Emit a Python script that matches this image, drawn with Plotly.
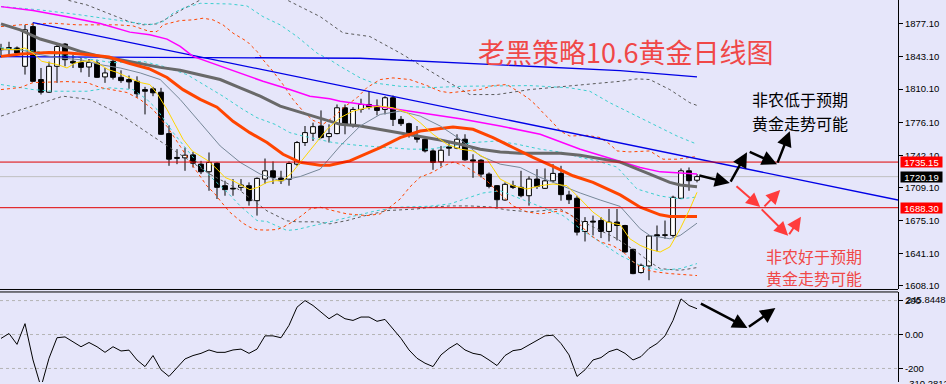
import plotly.graph_objects as go

BG = "#e6e6fa"

# ---------------- candles (daily gold) ----------------
opens = [1851.5,1852.0,1852.3,1833.5,1874.3,1819.9,1806.9,1833.5,1856.3,1838.6,
         1837.5,1832.8,1836.9,1822.6,1838.6,1822.2,1819.9,1818.1,1809.6,1810.4,
         1806.9,1764.4,1739.9,1739.5,1742.5,1733.0,1725.2,1734.0,1710.9,1708.2,
         1709.2,1710.9,1695.5,1717.7,1726.2,1718.7,1717.4,1733.0,1755.2,1764.7,
         1772.2,1761.3,1764.4,1790.9,1773.9,1789.2,1794.3,1792.6,1789.2,1801.2,
         1779.0,1774.6,1760.9,1758.6,1746.6,1735.4,1750.7,1749.4,1758.6,1737.4,
         1737.1,1722.8,1710.9,1696.2,1710.9,1709.2,1700.6,1717.7,1708.2,1715.9,
         1723.5,1701.4,1698.0,1663.9,1674.5,1675.1,1663.9,1673.5,1670.0,1645.5,
         1621.7,1628.5,1660.5,1659.8,1659.8,1698.0,1726.2,1716.5]
highs = [1856.6,1858.7,1853.9,1876.1,1878.4,1831.8,1838.3,1857.4,1857.4,1845.4,
         1842.0,1841.0,1840.3,1831.8,1842.0,1829.4,1824.0,1823.2,1812.4,1812.4,
         1811.4,1772.9,1748.4,1750.1,1745.6,1736.4,1745.0,1734.8,1716.0,1717.7,
         1717.7,1714.3,1719.4,1738.8,1735.8,1726.2,1735.8,1756.8,1772.2,1775.6,
         1788.2,1773.9,1794.3,1794.3,1791.6,1800.2,1807.9,1799.5,1802.8,1803.5,
         1782.4,1775.6,1772.2,1759.3,1748.4,1751.7,1755.2,1763.7,1763.7,1743.2,
         1738.1,1724.5,1711.6,1714.3,1716.0,1726.2,1720.5,1727.9,1728.6,1733.0,
         1731.3,1705.7,1700.6,1678.6,1680.2,1678.6,1687.0,1687.0,1670.7,1646.2,
         1630.9,1659.8,1670.0,1675.1,1700.6,1728.6,1729.6,1722.8]
lows = [1842.3,1845.4,1845.4,1825.0,1817.8,1804.5,1806.1,1816.5,1833.5,1831.8,
        1827.3,1822.6,1821.6,1816.5,1819.9,1816.5,1810.4,1801.2,1784.1,1802.8,
        1763.0,1731.3,1733.0,1726.2,1729.6,1722.8,1705.7,1697.2,1700.6,1700.6,
        1705.7,1690.4,1680.2,1712.6,1712.6,1712.6,1710.9,1731.3,1751.7,1756.8,
        1759.3,1755.2,1763.7,1763.7,1770.5,1785.9,1789.2,1783.1,1784.1,1772.2,
        1772.2,1760.3,1755.2,1745.0,1727.2,1730.7,1741.5,1748.4,1736.5,1719.0,
        1719.4,1708.2,1688.8,1695.5,1707.5,1699.0,1690.4,1707.5,1707.5,1714.3,
        1695.5,1692.1,1659.8,1653.6,1659.8,1657.1,1653.6,1654.7,1642.1,1620.0,
        1620.6,1613.8,1643.4,1656.4,1658.1,1697.2,1705.7,1714.3]
closes = [1850.5,1852.6,1847.1,1871.0,1818.1,1806.9,1833.5,1853.9,1840.3,1836.9,
          1832.4,1837.5,1822.2,1826.7,1822.2,1818.8,1817.5,1805.3,1807.9,1806.3,
          1763.7,1738.1,1738.9,1742.2,1734.0,1725.2,1734.8,1709.2,1706.8,1707.5,
          1711.6,1695.5,1718.4,1726.2,1719.4,1716.0,1733.7,1755.2,1765.4,1771.5,
          1760.3,1764.4,1790.9,1773.9,1789.2,1794.3,1791.6,1788.2,1801.2,1779.0,
          1774.6,1763.7,1758.6,1746.6,1734.8,1747.3,1749.4,1758.6,1737.4,1736.1,
          1722.8,1710.2,1696.5,1712.3,1709.2,1700.6,1717.7,1710.2,1715.9,1723.5,
          1701.7,1696.5,1663.2,1674.1,1673.5,1663.9,1673.5,1670.0,1642.8,1620.6,
          1629.1,1659.2,1659.2,1660.5,1699.0,1726.2,1716.0,1720.19]

# ---------------- moving averages ----------------
ma_yellow_x = [0,2,3,4,5.1,6.1,7.1,8.25,9.25,10.25,11.4,12.4,13.4,14.5,15.5,16.5,17.6,18.6,19.6,20.75,
               21.75,22.75,23.9,24.9,25.9,27,28,29,30.1,31.1,32.1,33.25,34.25,35.25,36.4,37.4,39,40.75,42.4,44,
               45.75,47.4,49,50.75,52.4,54,55.75,57.4,59,60.75,62.4,64,65.75,67.4,69,70.75,72.4,74,75.75,77.4,
               78.6,79.9,81.1,82.4,83.6,84.9,86.1,87]
ma_yellow_y = [1851.2,1850.5,1852.3,1847.1,1838.6,1836.9,1835.2,1831.8,1836.9,1838.6,1839.3,1835.2,1830.1,1827.3,1823.2,1819.9,1816.5,1814.8,1804.5,1789.2,
               1773.9,1758.6,1746.6,1741.5,1736.4,1727.9,1719.4,1716.0,1710.9,1706.8,1709.2,1714.3,1716.0,1716.0,1724.5,1734.8,1751.7,1768.8,1780.7,1787.5,
               1790.9,1792.6,1790.9,1785.9,1775.6,1763.7,1753.5,1748.4,1746.6,1738.1,1717.7,1710.9,1707.5,1710.9,1712.6,1710.9,1697.3,1683.7,1673.5,1670.7,
               1656.4,1649.6,1645.5,1642.8,1647.9,1666.6,1687.0,1704.1]

ma_thin_x = [0,2.4,4.9,7.4,9.9,12.4,14.9,17.4,19.9,22.4,24.9,27.4,29.9,32.4,34.9,37.4,39.9,42.4,44.9,47.4,
             49.9,52.4,54.9,57.4,59.9,62.4,64.9,67.4,69.9,72.4,74.9,77.4,79.9,81.1,83.6,84.9,87]
ma_thin_y = [1850.5,1850.5,1845.4,1842.0,1840.3,1835.2,1831.8,1826.7,1819.9,1799.4,1775.6,1751.7,1734.8,1722.8,1716.0,1720.3,1727.9,1751.7,1772.2,1784.1,
             1787.5,1782.4,1772.2,1758.6,1741.5,1733.0,1729.6,1719.4,1711.6,1703.4,1696.2,1689.6,1666.6,1659.8,1656.4,1659.8,1672.4]

ma_orange_x = [0,2.5,6,8.5,11,13.5,16,18.5,20.75,22.75,24.9,27,29,31.1,33.25,35.25,37.4,39.9,41.1,43.6,
               47.4,49.9,52.4,54.9,56.5,59,61.5,64,66.5,69,71.5,74,77.4,79.9,82.4,83.6,87]
ma_orange_y = [1843.7,1846.1,1847.8,1847.1,1845.4,1843.1,1836.5,1831.0,1822.0,1809.5,1799.5,1791.5,1777.0,1765.4,1755.2,1743.2,1734.8,1732.0,1732.0,1736.4,
               1750.1,1760.3,1767.0,1769.5,1771.1,1768.8,1760.3,1750.1,1739.9,1730.7,1721.1,1714.4,1701.4,1688.8,1681.0,1679.2,1679.2]

ma_grey_x = [0,2.4,4.9,7.4,9.9,12.4,14.9,17.4,19.9,22.4,24.9,27.4,29.9,32.4,34.9,37.4,39.9,42.4,44.9,47.4,
             49.9,52.4,54.9,57.4,59.9,62.4,64.9,67.4,69.9,72.4,74.9,77.4,81.1,83.6,84.9,87]
ma_grey_y = [1877.1,1871.0,1861.5,1855.6,1848.8,1843.7,1840.3,1836.2,1832.4,1829.4,1825.0,1819.9,1811.4,1802.8,1792.6,1786.1,1780.0,1773.9,1772.2,1768.8,
             1765.4,1761.3,1757.9,1753.5,1748.4,1745.6,1744.3,1744.3,1744.3,1742.2,1738.9,1735.1,1722.8,1714.3,1711.6,1709.8]

ma_magenta_x = [0,4,8.25,12.4,16.1,18.6,20.75,22.4,24,25.75,28.6,32.75,36.1,38.6,41.1,42.4,47.4,52.4,57.4,62.4,
                67.4,72.4,77.4,79.9,82.4,87]
ma_magenta_y = [1894.8,1890.7,1884.5,1877.5,1868.6,1865.8,1861.4,1853.9,1843.7,1838.6,1830.1,1818.1,1809.6,1802.8,1800.1,1797.7,1792.0,1785.9,1779.7,1772.2,
                1763.7,1748.4,1735.6,1729.6,1725.1,1722.8]

# ---------------- bands (dotted) ----------------
band_orange_up_x = [0,2.4,6.5,9.5,12,14.5,16.5,18.6,19.5,20.25,22.4,24,25.25,26.5,27.75,29,30.75,32,32.75,34,
                    35.25,36.5,37.75,39,40.25,41.5,43,44.5,45.75,47.4,49,51.1,53.25,54.9,56.1,57.75,59.9,61.5,63.25,64.9,
                    66.1,67,67.75,69,69.9,71.1,73.25,74.9,76.1,77,78.6,81.1,82.75,84.5,87]
band_orange_up_y = [1874.3,1876.1,1877.8,1876.1,1876.1,1876.1,1875.0,1869.2,1869.2,1876.1,1880.5,1881.2,1882.9,1881.2,1876.1,1867.6,1859.0,1848.8,1840.3,1828.3,
                    1814.8,1799.4,1787.5,1778.0,1773.9,1781.0,1792.3,1801.2,1811.7,1819.9,1821.6,1819.9,1813.7,1807.9,1806.3,1807.9,1809.6,1813.7,1814.8,1806.3,
                    1799.4,1792.6,1785.8,1775.6,1767.0,1761.9,1762.6,1760.3,1753.5,1746.6,1745.6,1746.6,1738.1,1738.1,1740.9]
band_orange_dn_x = [0,2.4,4,8.25,10.75,12.4,15.75,17.4,19,20.75,22.4,24,25.75,26.75,27.4,28.6,30.25,31.1,32,33.25,
                    34.5,35.25,36.4,37.6,38.6,39.9,41.5,43.25,45.75,47.4,48.6,49.9,51.1,52.4,54,55.25,56.5,57.75,59,60.75,
                    62.4,64,65.75,67.4,69.9,71.1,72.4,73.6,74.9,76.5,77.75,79,80.25,81.5,83.6,87]
band_orange_dn_y = [1809.6,1811.7,1816.8,1817.8,1816.8,1811.7,1806.6,1799.4,1789.2,1771.8,1751.4,1731.0,1710.5,1702.4,1695.5,1683.7,1672.4,1668.3,1665.6,1665.3,
                    1665.9,1668.3,1673.5,1680.2,1687.0,1688.8,1685.3,1681.9,1680.2,1681.9,1688.8,1697.3,1709.5,1719.7,1724.8,1731.0,1735.1,1732.0,1725.9,1715.7,
                    1702.4,1690.1,1684.0,1681.9,1685.0,1681.9,1670.7,1660.5,1653.3,1649.2,1643.1,1632.9,1625.7,1622.7,1620.6,1618.6]

band_cyan_up_x = [0,4.9,9.9,14.9,18.6,20.25,21.5,22.75,24.9,28.6,30.75,32.75,34.9,37,39.5,41.1,42.4,44.9,46.5,49.9,
                  54,57.75,62,66.1,71.1,73.6,76.1,78.6,82,84.5,87]
band_cyan_up_y = [1894.8,1891.4,1886.3,1880.1,1876.1,1879.4,1888.0,1893.1,1898.2,1897.5,1895.5,1884.5,1876.1,1864.1,1847.1,1840.3,1833.5,1821.6,1816.5,1813.0,
                  1811.7,1813.0,1813.0,1813.7,1811.4,1807.9,1796.1,1785.8,1772.2,1761.9,1753.5]
band_cyan_mid_x = [0,4.9,9.9,14,17.75,20.25,23.25,25.75,27.75,30.25,32,34.25,36.1,37.75,41.5,44.5,47.75,51.1,53.6,56.1,
                   59,62,64.5,67.4,70.25,72.4,74.5,77,79.5,82.4,84.9,87]
band_cyan_mid_y = [1852.6,1848.5,1842.3,1837.2,1838.6,1833.5,1825.0,1813.0,1802.8,1789.2,1780.7,1773.9,1765.4,1761.9,1755.2,1752.4,1750.1,1748.4,1748.4,1751.7,
                   1755.2,1756.8,1753.5,1748.4,1745.0,1739.9,1736.4,1730.0,1707.5,1700.3,1697.3,1699.3]
band_cyan_dn_x = [0,4,6.5,10.75,13.6,16.5,18.25,19.5,21.5,23.25,24.9,26.5,28.25,29.9,30.75,32,33.25,34.5,35.75,37,
                  38.25,40.25,43.6,47,49.9,53.6,56.1,58.6,60.25,62.4,64.5,66.5,68.6,70.25,72.4,74.9,77.4,79.9,82.4,84.9,87]
band_cyan_dn_y = [1814.8,1809.6,1807.9,1807.9,1811.4,1809.6,1799.4,1789.2,1765.7,1748.4,1731.0,1717.7,1704.4,1690.1,1683.7,1675.1,1674.1,1669.4,1664.9,1665.9,
                  1668.3,1671.7,1678.6,1685.3,1688.8,1689.8,1692.2,1699.0,1703.4,1705.7,1699.0,1692.2,1685.3,1680.2,1666.6,1653.0,1639.3,1629.1,1624.0,1625.7,1630.9]

band_grey_up_x = [0,4.9,8.25,10.75,13.25,16.1,17.75,19.5,21.1,23,24.9,28.6,32.4,35.75,37.4,39.9,42.75,46.1,49.9,53.6,
                  56.1,58.6,62,66.1,70.25,74.5,77.4,79.5,81.1,83.6,86.1,87]
band_grey_up_y = [1927.1,1911.8,1901.6,1896.5,1888.3,1879.1,1876.1,1877.1,1884.2,1893.4,1901.6,1913.9,1909.8,1901.6,1894.8,1884.5,1867.9,1864.1,1847.1,1828.3,
                  1816.5,1804.5,1804.5,1809.6,1813.0,1816.5,1818.1,1820.6,1819.9,1809.6,1796.1,1793.3]
band_grey_dn_x = [0,4,7.75,11.1,14.9,18.6,22.4,26.1,29.6,30.75,32,33.25,34.5,35.75,37,39.5,41.1,43.25,45.25,48.25,
                  52,53.6,56.1,58.6,61.1,63.25,66.1,69.9,72.4,74.9,77,79.5,81.1,82.4,84.9,87]
band_grey_dn_y = [1782.4,1792.6,1802.8,1799.4,1784.1,1763.7,1743.2,1722.8,1707.5,1700.3,1692.1,1685.0,1679.9,1674.8,1673.8,1673.8,1671.7,1675.1,1679.6,1685.3,
                  1687.0,1688.8,1690.1,1690.1,1689.1,1686.0,1684.0,1687.0,1675.1,1664.9,1656.4,1642.8,1632.6,1625.7,1624.0,1626.8]

# ---------------- trend lines & levels ----------------
trend_down_x = [4, 112.125]
trend_down_y = [1878.4, 1696.2]
trend_flat_x = [-0.2, 44.9, 77.4, 87]
trend_flat_y = [1843.4, 1841.8, 1829.1, 1822.6]
level_red = [1735.15, 1688.30]
level_now = 1720.19

price_ticks = [1877.10, 1843.10, 1810.10, 1776.10, 1742.10, 1709.10, 1675.10, 1641.10, 1608.10]

# ---------------- CCI ----------------
cci = [-23,6,-58,64,-150,-310,-140,-19,-14,-43,
       -72,-47,-72,-105,-72,-97,-92,-150,-189,-124,
       -208,-247,-194,-144,-124,-111,-91,-105,-105,-91,
       -86,-111,-86,-8,-8,-19,54,161,200,171,
       132,93,122,93,83,103,103,78,89,35,
       -23,-91,-140,-169,-189,-120,-82,-53,-91,-111,
       -120,-150,-183,-124,-95,-88,-62,-33,-8,-4,
       -53,-120,-247,-208,-150,-136,-101,-86,-111,-150,
       -130,-82,-53,-8,83,210,171,152]
cci_levels = [200, 0, -200]
cci_ticks = [200, 0, -200]

# ---------------- annotation arrows (data coords) ----------------
black_arrows = [(87.1, 1721.8, 91.1, 1713.6), (91.1, 1713.6, 93.25, 1745.3),
                (93.4, 1746.3, 97.0, 1733.0), (97.0, 1733.0, 98.6, 1766.7)]
red_arrows = [(91.75, 1711.6, 94.9, 1689.1), (95.25, 1688.1, 97.4, 1706.5),
              (94.9, 1688.1, 98.4, 1659.5), (98.4, 1659.5, 100.0, 1678.9)]
cci_arrows = [(87.3, 186.6, 93.3, 39.0), (93.3, 39.0, 96.8, 155.7)]

fig = go.Figure()
n = len(opens)

# wicks
wx, wy = [], []
for i in range(n):
    o, h, l, c = opens[i], highs[i], lows[i], closes[i]
    wx += [i, i, None, i, i, None]
    wy += [h, max(o, c), None, min(o, c), l, None]
fig.add_trace(go.Scatter(x=wx, y=wy, mode="lines", line=dict(color="black", width=1),
                         hoverinfo="skip", showlegend=False))

up = [i for i in range(n) if closes[i] >= opens[i]]
dn = [i for i in range(n) if closes[i] < opens[i]]
fig.add_trace(go.Bar(x=up, y=[max(abs(closes[i] - opens[i]), 0.8) for i in up],
                     base=[min(opens[i], closes[i]) for i in up], width=0.6,
                     marker=dict(color="white", line=dict(color="black", width=1)),
                     hoverinfo="skip", showlegend=False))
fig.add_trace(go.Bar(x=dn, y=[max(abs(closes[i] - opens[i]), 0.8) for i in dn],
                     base=[min(opens[i], closes[i]) for i in dn], width=0.6,
                     marker=dict(color="black", line=dict(color="black", width=1)),
                     hoverinfo="skip", showlegend=False))

def line(x, y, color, width, dash=None, yaxis="y"):
    fig.add_trace(go.Scatter(x=x, y=y, mode="lines", yaxis=yaxis,
                             line=dict(color=color, width=width, dash=dash),
                             hoverinfo="skip", showlegend=False))

DOT = "3px,3px"
line(band_grey_up_x, band_grey_up_y, "#5a5a5a", 1, DOT)
line(band_grey_dn_x, band_grey_dn_y, "#5a5a5a", 1, DOT)
line(band_cyan_up_x, band_cyan_up_y, "#3ccfcf", 1, DOT)
line(band_cyan_mid_x, band_cyan_mid_y, "#3ccfcf", 1, DOT)
line(band_cyan_dn_x, band_cyan_dn_y, "#3ccfcf", 1, DOT)
line(band_orange_up_x, band_orange_up_y, "#ff4500", 1, DOT)
line(band_orange_dn_x, band_orange_dn_y, "#ff4500", 1, DOT)

line(trend_flat_x, trend_flat_y, "#0000e6", 1.3)
line(trend_down_x, trend_down_y, "#0000e6", 1.3)

line(ma_magenta_x, ma_magenta_y, "#ff00ff", 1.5)
line(ma_grey_x, ma_grey_y, "#696969", 3)
line(ma_orange_x, ma_orange_y, "#ff4500", 3)
line(ma_thin_x, ma_thin_y, "#778899", 1)
line(ma_yellow_x, ma_yellow_y, "#ffd700", 1)

# CCI
line(list(range(len(cci))), cci, "black", 1, None, "y2")

shapes = []
for lv in level_red:
    shapes.append(dict(type="line", xref="paper", x0=0, x1=1, yref="y", y0=lv, y1=lv,
                       line=dict(color="#e00000", width=1)))
shapes.append(dict(type="line", xref="paper", x0=0, x1=1, yref="y", y0=level_now, y1=level_now,
                   line=dict(color="#c0c0c0", width=1), layer="below"))
for lv in cci_levels:
    shapes.append(dict(type="line", xref="paper", x0=0, x1=1, yref="y2", y0=lv, y1=lv,
                       line=dict(color="#b4b4b4", width=1, dash="3px,3px"), layer="below"))
# panel frames
shapes.append(dict(type="line", xref="paper", x0=0, x1=1, yref="paper", y0=1 - 291 / 384, y1=1 - 291 / 384,
                   line=dict(color="black", width=1)))
shapes.append(dict(type="line", xref="paper", x0=0, x1=1, yref="paper", y0=1 - 293.5 / 384, y1=1 - 293.5 / 384,
                   line=dict(color="black", width=1)))

ann = []
FONT_AX = "Liberation Sans"
for val, bg in [(level_red[0], "#ff0000"), (level_now, "#000000"), (level_red[1], "#ff0000")]:
    ann.append(dict(x=1, xref="paper", xanchor="left", xshift=2, y=val, yref="y",
                    text=f"{val:.2f}", showarrow=False, bgcolor=bg, borderpad=0,
                    width=41, height=10, font=dict(color="white", size=9.5, family=FONT_AX)))
ann.append(dict(x=1, xref="paper", xanchor="left", xshift=6, y=208, yref="y2",
                text="245.8448", showarrow=False, font=dict(color="black", size=9.5, family=FONT_AX)))
ann.append(dict(x=1, xref="paper", xanchor="left", xshift=6, y=1 - 386 / 384, yref="paper",
                yanchor="middle", text="-310.2812", showarrow=False,
                font=dict(color="black", size=9.5, family=FONT_AX)))

CJK = "Noto Sans CJK SC"
RED_T = "#f04848"
ann.append(dict(x=625.5 / 898, y=1 - 52 / 384, xref="paper", yref="paper", text="老黑策略10.6黄金日线图",
                showarrow=False, xanchor="center", yanchor="middle", font=dict(family=CJK, size=27, color=RED_T)))
for txt, yy in [("非农低于预期", 100), ("黄金走势可能", 123.5)]:
    ann.append(dict(x=800 / 898, y=1 - yy / 384, xref="paper", yref="paper", text=txt, showarrow=False,
                    xanchor="center", yanchor="middle", font=dict(family=CJK, size=16, color="black")))
for txt, yy in [("非农好于预期", 257), ("黄金走势可能", 279)]:
    ann.append(dict(x=813.5 / 898, y=1 - yy / 384, xref="paper", yref="paper", text=txt, showarrow=False,
                    xanchor="center", yanchor="middle", font=dict(family=CJK, size=16, color=RED_T)))

for (x0, y0, x1, y1) in black_arrows:
    ann.append(dict(x=x1, y=y1, ax=x0, ay=y0, xref="x", yref="y", axref="x", ayref="y", text="",
                    showarrow=True, arrowhead=2, arrowsize=1.2, arrowwidth=2.5, arrowcolor="black",
                    standoff=0, startstandoff=0))
for (x0, y0, x1, y1) in red_arrows:
    ann.append(dict(x=x1, y=y1, ax=x0, ay=y0, xref="x", yref="y", axref="x", ayref="y", text="",
                    showarrow=True, arrowhead=2, arrowsize=1.4, arrowwidth=2, arrowcolor="#ff3c3c",
                    standoff=0, startstandoff=0))
for (x0, y0, x1, y1) in cci_arrows:
    ann.append(dict(x=x1, y=y1, ax=x0, ay=y0, xref="x", yref="y2", axref="x", ayref="y2", text="",
                    showarrow=True, arrowhead=2, arrowsize=1.2, arrowwidth=2.5, arrowcolor="black",
                    standoff=0, startstandoff=0))

axis_common = dict(side="right", ticks="outside", ticklen=4, tickcolor="black", showline=True,
                   linecolor="black", linewidth=1, showgrid=False, zeroline=False,
                   tickfont=dict(family=FONT_AX, size=9.5, color="black"), anchor="x")

fig.update_layout(
    width=946, height=384,
    margin=dict(l=0, r=48, t=0, b=0),
    paper_bgcolor=BG, plot_bgcolor=BG,
    barmode="overlay", hovermode=False, showlegend=False,
    xaxis=dict(range=[-0.125, 112.125], visible=False, showgrid=False, zeroline=False, anchor="y"),
    yaxis=dict(domain=[1 - 291 / 384, 1], range=[1604.3, 1901.6],
               tickvals=price_ticks, ticktext=[f"{v:.2f}" for v in price_ticks], **axis_common),
    yaxis2=dict(domain=[0, 1 - 293.5 / 384], range=[-279.8, 250.7],
                tickvals=cci_ticks, ticktext=["200", "0.00", "-200"], **axis_common),
    shapes=shapes, annotations=ann,
)

fig.write_html("out.html", config={"displayModeBar": False},
               post_script="document.body.style.margin='0';document.body.style.overflow='hidden';")
